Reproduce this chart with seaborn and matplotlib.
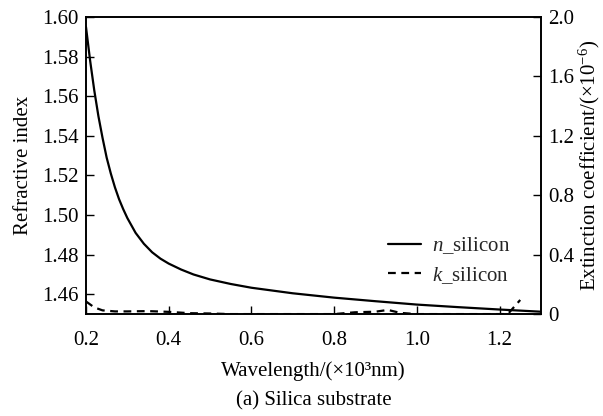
import numpy as np
import pandas as pd
import matplotlib
matplotlib.use("Agg")
import matplotlib.pyplot as plt
import seaborn as sns

# Refractive index n of the silica substrate vs wavelength (x10^3 nm)
wavelength_n = [0.20, 0.21, 0.22, 0.23, 0.24, 0.25, 0.26, 0.27, 0.28, 0.29,
                0.30, 0.32, 0.34, 0.36, 0.38, 0.40, 0.43, 0.46, 0.50, 0.55,
                0.60, 0.70, 0.80, 0.90, 1.00, 1.10, 1.20, 1.30]
n_silicon = [1.595, 1.578, 1.563, 1.550, 1.539, 1.529, 1.521, 1.514, 1.508, 1.503,
             1.4985, 1.491, 1.4855, 1.4812, 1.4780, 1.4755, 1.4725, 1.4700, 1.4675, 1.4652,
             1.4633, 1.4605, 1.4583, 1.4565, 1.4548, 1.4535, 1.4523, 1.4512]

# Extinction coefficient k (x10^-6)
wavelength_k = [0.20, 0.22, 0.24, 0.27, 0.30, 0.35, 0.40, 0.45, 0.50, 0.55,
                0.60, 0.70, 0.80, 0.85, 0.90, 0.93, 0.96, 1.00, 1.10, 1.20,
                1.22, 1.25]
k_silicon = [0.085, 0.045, 0.025, 0.018, 0.018, 0.020, 0.015, 0.006, 0.004, 0.0,
             0.0, 0.0, 0.0, 0.012, 0.016, 0.028, 0.008, 0.0, 0.0, 0.0,
             0.0, 0.095]

x_ticks = [0.2, 0.4, 0.6, 0.8, 1.0, 1.2]
x_tick_labels = ["0.2", "0.4", "0.6", "0.8", "1.0", "1.2"]
n_ticks = [1.46, 1.48, 1.50, 1.52, 1.54, 1.56, 1.58, 1.60]
k_ticks = [0, 0.4, 0.8, 1.2, 1.6, 2.0]
k_tick_labels = ["0", "0.4", "0.8", "1.2", "1.6", "2.0"]

sns.set_theme(style="ticks")
plt.rcParams["font.family"] = ["Liberation Serif", "DejaVu Serif"]
plt.rcParams["mathtext.fontset"] = "custom"
plt.rcParams["mathtext.rm"] = "Liberation Serif"
plt.rcParams["mathtext.it"] = "Liberation Serif:italic"
plt.rcParams["axes.edgecolor"] = "black"
plt.rcParams["axes.linewidth"] = 1.2

df_n = pd.DataFrame({"wavelength": wavelength_n, "n": n_silicon})
df_k = pd.DataFrame({"wavelength": wavelength_k, "k": k_silicon})

fig = plt.figure(figsize=(6.03, 4.16), dpi=100)
ax = fig.add_axes([0.1426, 0.245, 0.7544, 0.714])
ax2 = ax.twinx()

sns.lineplot(data=df_n, x="wavelength", y="n", ax=ax, color="black",
             linewidth=1.6, label="$n$_silicon", legend=False)
sns.lineplot(data=df_k, x="wavelength", y="k", ax=ax2, color="black",
             linewidth=1.6, linestyle=(0, (3.5, 2.5)), label="$k$_silicon",
             legend=False)

fs = 15
ax.set_xlim(0.2, 1.3)
ax.set_ylim(1.45, 1.60)
ax2.set_ylim(0, 2.0)

ax.set_xticks(x_ticks)
ax.set_xticklabels(x_tick_labels)
ax.set_yticks(n_ticks)
ax.set_yticklabels([f"{v:.2f}" for v in n_ticks])
ax2.set_yticks(k_ticks)
ax2.set_yticklabels(k_tick_labels)

ax.tick_params(axis="y", direction="in", length=6, width=1, labelsize=fs,
               colors="black", pad=5)
ax.tick_params(axis="x", direction="in", length=6, width=1, labelsize=fs,
               colors="black", pad=12)
ax2.tick_params(axis="y", direction="in", length=6, width=1, labelsize=fs,
                colors="black", pad=5)

ax.set_xlabel("Wavelength/(\u00d710\u00b3nm)", fontsize=fs, color="black", labelpad=8)
ax.set_ylabel("Refractive index", fontsize=fs, color="black", labelpad=7)
ax2.set_ylabel("Extinction coefficient/(\u00d710$^{\u22126}$)", fontsize=fs,
               color="black", labelpad=2)

for spine in list(ax.spines.values()) + list(ax2.spines.values()):
    spine.set_color("black")
    spine.set_linewidth(1.2)

h1, l1 = ax.get_legend_handles_labels()
h2, l2 = ax2.get_legend_handles_labels()
ax2.legend(h1 + h2, l1 + l2, loc="center right", bbox_to_anchor=(0.95, 0.18),
           frameon=False, fontsize=fs, handlelength=1.6, handletextpad=0.5,
           labelspacing=0.4, borderaxespad=0)

fig.text(0.52, 0.037, "(a) Silica substrate", ha="center", va="center",
         fontsize=fs, color="black")

fig.savefig("out.png", dpi=100, facecolor="white")
